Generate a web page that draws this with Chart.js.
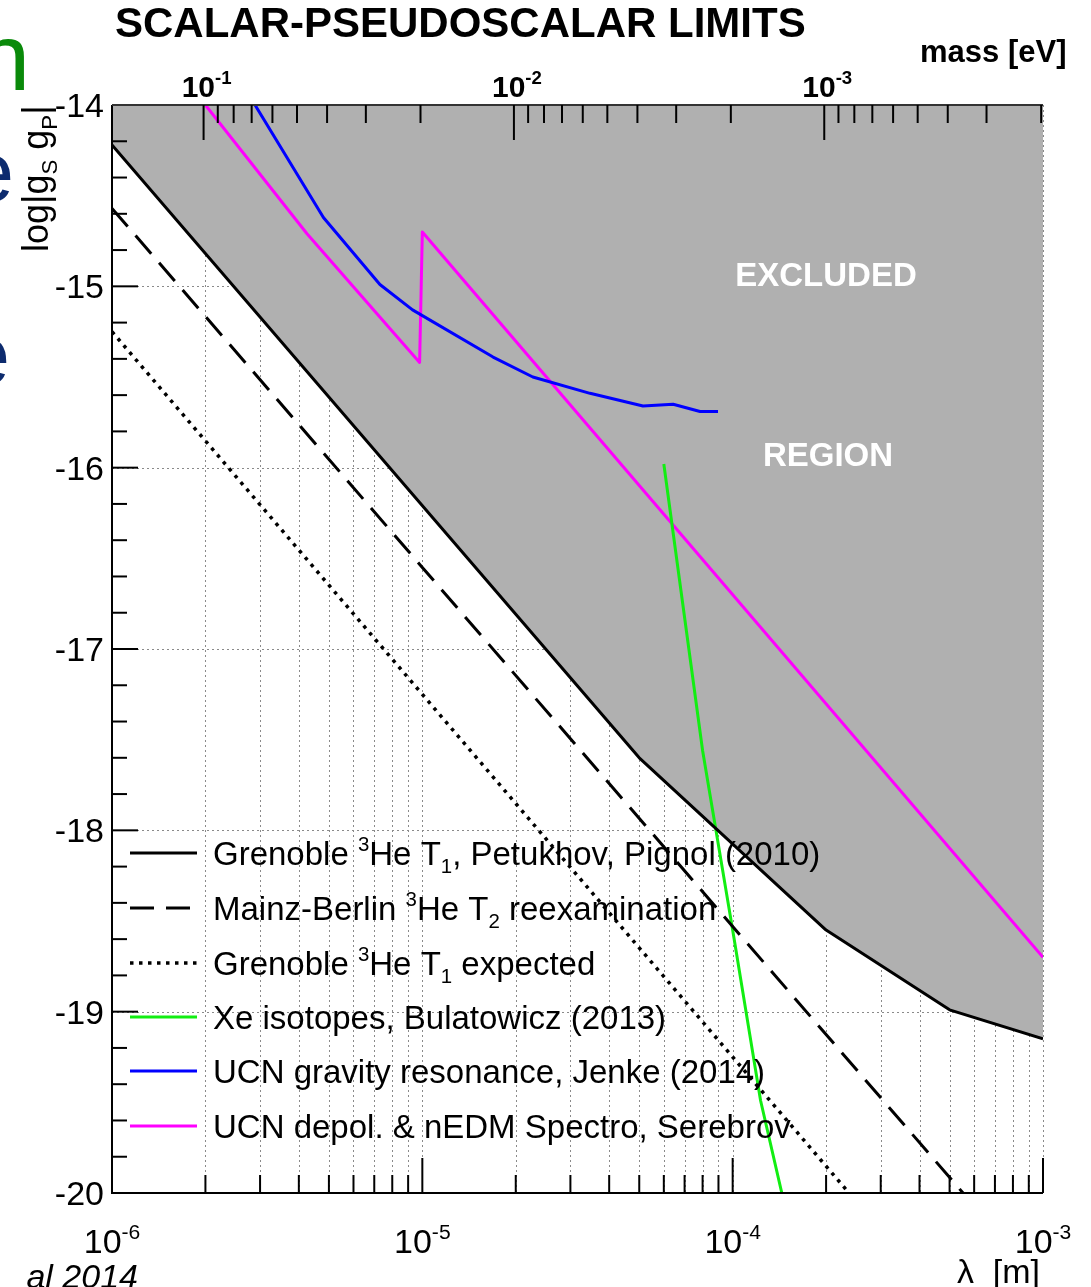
<!DOCTYPE html>
<html>
<head>
<meta charset="utf-8">
<script src="https://cdn.jsdelivr.net/npm/chart.js@4/dist/chart.umd.min.js"></script>
<style>
html, body { margin: 0; padding: 0; background: #fff; overflow: hidden; }
</style>
</head>
<body>
<canvas id="limitsChart" width="1091" height="1287"></canvas>
<script>
// Limits: wavelength lambda [m] vs log|gS gP|
const grenobleLambda = [1e-6, 5e-5, 2e-4, 5e-4, 1e-3];
const grenobleLimit = [-14.22, -17.60, -18.55, -18.99, -19.15];
const mainzLambda = [1e-6, 1e-5, 1e-4, 1e-3];
const mainzLimit = [-14.57, -16.55, -18.53, -20.51];
const expectedLambda = [1e-6, 1e-5, 1e-4, 1e-3];
const expectedLimit = [-15.25, -17.25, -19.25, -21.25];
const xeLambda = [6.0e-5, 8.0e-5, 1.0e-4, 1.23e-4, 1.44e-4];
const xeLimit = [-15.98, -17.56, -18.55, -19.49, -20.0];
const jenkeLambda = [2.89e-6, 4.8e-6, 7.3e-6, 9.3e-6, 1.69e-5, 2.27e-5, 3.47e-5, 5.14e-5, 6.43e-5, 7.85e-5, 8.97e-5];
const jenkeLimit = [-14.0, -14.62, -14.99, -15.13, -15.39, -15.50, -15.59, -15.66, -15.65, -15.69, -15.69];
const serebrovLambda = [2e-6, 4.25e-6, 9.8e-6, 1e-5, 1e-3];
const serebrovLimit = [-14.0, -14.71, -15.42, -14.70, -18.70];

// axis ticks
const lambdaDecades = [1e-6, 1e-5, 1e-4, 1e-3];
const lambdaExponents = ['-6', '-5', '-4', '-3'];
const minorSteps = [2, 3, 4, 5, 6, 7, 8, 9];
const yTicks = [-14, -15, -16, -17, -18, -19, -20];
const massDecades = [1e-1, 1e-2, 1e-3];
const massExponents = ['-1', '-2', '-3'];
const HBARC = 1.973e-7; // eV m

// legend labels (text, 'sup' / 'sub' / '')
const legendLabels = [
    [['Grenoble ', ''], ['3', 'sup'], ['He T', ''], ['1', 'sub'], [', Petukhov, Pignol (2010)', '']],
    [['Mainz-Berlin ', ''], ['3', 'sup'], ['He T', ''], ['2', 'sub'], [' reexamination', '']],
    [['Grenoble ', ''], ['3', 'sup'], ['He T', ''], ['1', 'sub'], [' expected', '']],
    [['Xe isotopes, Bulatowicz (2013)', '']],
    [['UCN gravity resonance, Jenke (2014)', '']],
    [['UCN depol. & nEDM Spectro, Serebrov', '']]
];

const FAMILY = '"Liberation Sans", Arial, sans-serif';
function font(size, weight, style) {
    return (style || '') + ' ' + (weight || 'normal') + ' ' + size + 'px ' + FAMILY;
}
function pts(xs, ys) {
    return xs.map((x, i) => ({x: x, y: ys[i]}));
}

function richWidth(ctx, parts, size, weight) {
    let w = 0;
    parts.forEach(([t, m]) => {
        ctx.font = font(m ? size * 0.62 : size, weight);
        w += ctx.measureText(t).width;
    });
    return w;
}
function drawRich(ctx, parts, x, y, size, weight, align, color) {
    const w = richWidth(ctx, parts, size, weight);
    let cx = align === 'center' ? x - w / 2 : (align === 'right' ? x - w : x);
    ctx.textAlign = 'left';
    ctx.textBaseline = 'alphabetic';
    ctx.fillStyle = color || '#000';
    parts.forEach(([t, m]) => {
        const s = m ? size * 0.62 : size;
        ctx.font = font(s, weight);
        let dy = 0;
        if (m === 'sup') dy = -size * 0.42;
        if (m === 'sub') dy = size * 0.25;
        ctx.fillText(t, cx, y + dy);
        cx += ctx.measureText(t).width;
    });
}

const decor = {
    id: 'decor',
    beforeDraw(chart) {
        const {ctx, chartArea: a, scales: {x, y}} = chart;
        ctx.save();
        ctx.strokeStyle = '#8a8a8a';
        ctx.lineWidth = 1;
        ctx.setLineDash([2, 3]);
        lambdaDecades.forEach(d => {
            [1].concat(minorSteps).forEach(k => {
                const v = d * k;
                if (v > 1e-3 || v <= 1e-6) return;
                const px = Math.round(x.getPixelForValue(v)) + 0.5;
                ctx.beginPath(); ctx.moveTo(px, a.top); ctx.lineTo(px, a.bottom); ctx.stroke();
            });
        });
        yTicks.forEach(t => {
            const py = Math.round(y.getPixelForValue(t)) + 0.5;
            ctx.beginPath(); ctx.moveTo(a.left, py); ctx.lineTo(a.right, py); ctx.stroke();
        });
        ctx.restore();
    },
    afterDatasetsDraw(chart) {
        const {ctx, chartArea: a, scales: {x, y}} = chart;
        ctx.save();
        ctx.setLineDash([]);
        ctx.strokeStyle = '#000';
        ctx.lineWidth = 2;
        // frame
        ctx.beginPath();
        ctx.moveTo(a.left, a.top); ctx.lineTo(a.left, a.bottom); ctx.lineTo(a.right, a.bottom);
        ctx.stroke();
        ctx.strokeStyle = '#333';
        ctx.beginPath(); ctx.moveTo(a.left, a.top); ctx.lineTo(a.right, a.top); ctx.stroke();
        ctx.strokeStyle = '#000';
        // bottom ticks
        lambdaDecades.forEach(d => {
            [1].concat(minorSteps).forEach(k => {
                const v = d * k;
                if (v > 1e-3) return;
                const px = x.getPixelForValue(v);
                const len = k === 1 ? 35 : 18;
                ctx.beginPath(); ctx.moveTo(px, a.bottom); ctx.lineTo(px, a.bottom - len); ctx.stroke();
            });
        });
        // top (mass) ticks
        massDecades.forEach(d => {
            [1].concat(minorSteps).forEach(k => {
                const lam = HBARC / (d * k / (k === 1 ? 1 : 10));
                if (lam < 1e-6 || lam > 1e-3) return;
                const px = x.getPixelForValue(lam);
                const len = k === 1 ? 35 : 18;
                ctx.beginPath(); ctx.moveTo(px, a.top); ctx.lineTo(px, a.top + len); ctx.stroke();
            });
        });
        // left ticks
        for (let v = -20; v <= -14.001; v += 0.2) {
            const py = y.getPixelForValue(v);
            const major = Math.abs(v - Math.round(v)) < 1e-6;
            ctx.beginPath(); ctx.moveTo(a.left, py); ctx.lineTo(a.left + (major ? 26 : 15), py); ctx.stroke();
        }
        ctx.restore();
    },
    afterDraw(chart) {
        const {ctx, chartArea: a, scales: {x, y}} = chart;
        ctx.save();
        // y labels
        ctx.fillStyle = '#000';
        ctx.textAlign = 'right';
        ctx.textBaseline = 'alphabetic';
        ctx.font = font(34);
        yTicks.forEach(t => ctx.fillText(String(t), a.left - 8, y.getPixelForValue(t) + 12));
        // bottom labels
        lambdaDecades.forEach((d, i) => {
            drawRich(ctx, [['10', ''], [lambdaExponents[i], 'sup']], x.getPixelForValue(d), 1253, 34, 'normal', 'center');
        });
        // top labels
        massDecades.forEach((m, i) => {
            drawRich(ctx, [['10', ''], [massExponents[i], 'sup']], x.getPixelForValue(HBARC / m) + 3, 97, 30, 'bold', 'center');
        });
        drawRich(ctx, [['\u03bb  [m]', '']], 1040, 1283, 34, 'normal', 'right');
        drawRich(ctx, [['mass [eV]', '']], 920, 62, 31, 'bold', 'left');
        drawRich(ctx, [['SCALAR-PSEUDOSCALAR LIMITS', '']], 115, 37, 42, 'bold', 'left');
        // y title (rotated)
        ctx.save();
        ctx.translate(48, 252);
        ctx.rotate(-Math.PI / 2);
        drawRich(ctx, [['log|g', ''], ['S', 'sub'], [' g', ''], ['P', 'sub'], ['|', '']], 0, 0, 36, 'normal', 'left');
        ctx.restore();
        // region text
        ctx.fillStyle = '#fff';
        ctx.textAlign = 'center';
        ctx.textBaseline = 'middle';
        ctx.font = font(33, 'bold');
        ctx.fillText('EXCLUDED', 826, 277);
        ctx.fillText('REGION', 828, 457);
        // legend
        const rowY = [853, 908, 963, 1017, 1071, 1126];
        chart.data.datasets.forEach((ds, i) => {
            ctx.save();
            ctx.strokeStyle = ds.borderColor;
            ctx.lineWidth = ds.borderWidth;
            ctx.setLineDash(ds.borderDash || []);
            ctx.beginPath(); ctx.moveTo(130, rowY[i]); ctx.lineTo(197, rowY[i]); ctx.stroke();
            ctx.restore();
            drawRich(ctx, legendLabels[i], 213, rowY[i] + 12, 33, 'normal', 'left', '#000');
        });
        // slide fragments around the figure
        ctx.textBaseline = 'alphabetic';
        ctx.textAlign = 'right';
        ctx.fillStyle = '#0a8a0a';
        ctx.font = font(95);
        ctx.fillText('n', 30, 90);
        ctx.fillStyle = '#0d2b6e';
        ctx.font = font(85);
        ctx.fillText('e', 14, 201);
        ctx.fillText('e', 10, 384);
        ctx.fillStyle = '#000';
        ctx.font = font(34, 'normal', 'italic');
        ctx.fillText('al 2014', 138, 1288);
        ctx.restore();
    }
};

new Chart(document.getElementById('limitsChart').getContext('2d'), {
    type: 'line',
    data: {
        datasets: [{
            label: 'Grenoble 3He T1, Petukhov, Pignol (2010)',
            data: pts(grenobleLambda, grenobleLimit),
            borderColor: '#000',
            borderWidth: 3,
            fill: 'end',
            backgroundColor: '#b0b0b0'
        }, {
            label: 'Mainz-Berlin 3He T2 reexamination',
            data: pts(mainzLambda, mainzLimit),
            borderColor: '#000',
            borderWidth: 3,
            borderDash: [24, 12],
            fill: false
        }, {
            label: 'Grenoble 3He T1 expected',
            data: pts(expectedLambda, expectedLimit),
            borderColor: '#000',
            borderWidth: 3.5,
            borderDash: [3.5, 5.5],
            fill: false
        }, {
            label: 'Xe isotopes, Bulatowicz (2013)',
            data: pts(xeLambda, xeLimit),
            borderColor: '#12ee12',
            borderWidth: 3,
            fill: false
        }, {
            label: 'UCN gravity resonance, Jenke (2014)',
            data: pts(jenkeLambda, jenkeLimit),
            borderColor: '#0000ff',
            borderWidth: 3,
            fill: false
        }, {
            label: 'UCN depol. & nEDM Spectro, Serebrov',
            data: pts(serebrovLambda, serebrovLimit),
            borderColor: '#ff00ff',
            borderWidth: 3,
            fill: false
        }]
    },
    options: {
        responsive: false,
        animation: false,
        devicePixelRatio: 1,
        layout: {padding: {left: 112, right: 48, top: 105, bottom: 94}},
        elements: {
            point: {radius: 0},
            line: {tension: 0, borderJoinStyle: 'round'}
        },
        scales: {
            x: {type: 'logarithmic', min: 1e-6, max: 1e-3, display: false},
            y: {type: 'linear', min: -20, max: -14, display: false}
        },
        plugins: {
            legend: {display: false},
            tooltip: {enabled: false},
            filler: {drawTime: 'beforeDatasetsDraw'}
        }
    },
    plugins: [decor]
});
</script>
</body>
</html>
